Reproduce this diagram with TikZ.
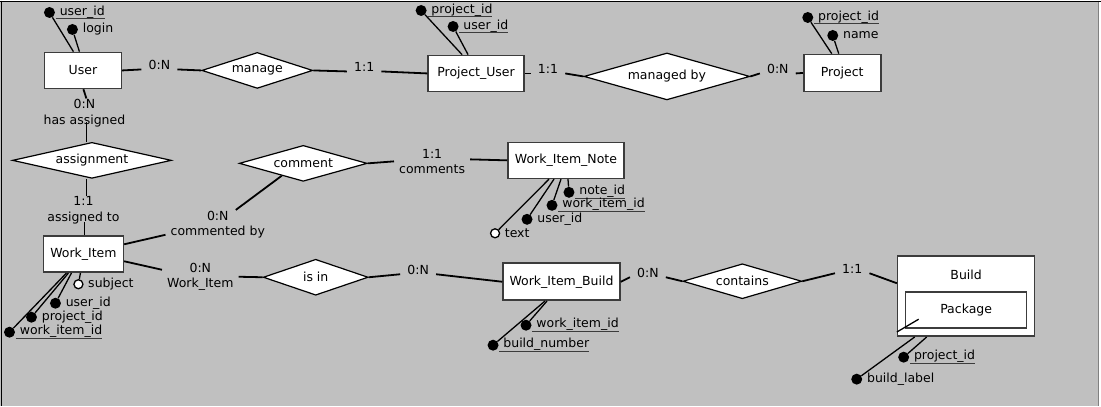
\documentclass[tikz,border=0pt]{standalone}
\usepackage{fontspec}
\setmainfont{DejaVu Sans}
\usetikzlibrary{shapes.geometric}

\definecolor{canvas}{RGB}{192,192,192}
\definecolor{boxline}{RGB}{60,60,60}

% underlined key attribute name
\newcommand{\ulkey}[1]{\setbox0=\hbox{\ #1}\leavevmode\hbox{\rlap{\copy0}\raise-3pt\hbox to\wd0{\color{boxline}\leaders\vrule height 0pt depth 1.3pt\hfill}}}

\tikzset{
  entity/.style = {draw=boxline, line width=1.6pt, fill=white, rectangle, inner sep=0pt, minimum width=#1, minimum height=36pt},
  rel/.style = {draw=black, line width=1.2pt, fill=white, diamond, aspect=3.5, inner sep=0pt, minimum width=#1},
  card/.style = {inner xsep=7pt, inner ysep=1pt},
  twocard/.style = {align=center, inner xsep=5pt, inner ysep=1pt},
  keyattr/.style = {circle, fill=black, inner sep=0pt, minimum size=11pt},
  attr/.style = {circle, draw=black, line width=1.3pt, fill=white, inner sep=0pt, minimum size=9pt},
  attrtxt/.style = {inner sep=0.5pt, label distance=0pt},
  link/.style = {line width=1.8pt},
  attrlink/.style = {line width=1.3pt}
}

\begin{document}
\begin{tikzpicture}[x=1pt, y=-1pt, font=\fontsize{12.5}{15.5}\selectfont]
% frame
\fill[canvas] (0,0) rectangle (1098,406);
\fill[white] (1098,0) rectangle (1101,406);
\draw[gray, line width=1pt] (1098.5,0) -- (1098.5,406);
\draw[black, line width=1pt] (0,0.5) -- (1101,0.5);
\draw[black, line width=1pt] (1,0) -- (1,406);
\useasboundingbox (0,0) rectangle (1101,406);

% entities
\node[entity=77pt] (user) at (82.5,70) {User};
\node[entity=96pt] (projuser) at (476,73) {Project\_User};
\node[entity=77pt, minimum height=37pt] (project) at (842.5,72.5) {Project};
\node[entity=80pt] (workitem) at (83,254) {Work\_Item};
\node[entity=116pt] (wnote) at (566,160) {Work\_Item\_Note};
\node[entity=117pt, minimum height=37pt] (wbuild) at (561.5,281.5) {Work\_Item\_Build};
\node[entity=137pt, minimum height=80pt] (build) at (966.5,296) {};
\node (buildname) at (966.5,275) {Build};
\node[entity=121pt] (package) at (966.5,310) {Package};

% relationships
\node[rel=111pt, minimum height=36pt] (manage) at (257,70) {manage};
\node[rel=166pt, minimum height=47pt] (managedby) at (667,76) {managed by};
\node[rel=159pt, minimum height=36pt] (assignment) at (91.5,160) {assignment};
\node[rel=128pt, minimum height=36pt] (comment) at (303,163) {comment};
\node[rel=105pt, minimum height=36pt] (isin) at (315.5,277) {is in};
\node[rel=119pt, minimum height=35pt] (contains) at (742.5,281) {contains};

% cardinalities
\node[card, anchor=base] (c1) at (159,69) {0:N};
\node[card, anchor=base] (c2) at (364,71) {1:1};
\node[card, anchor=base] (c3) at (548,73) {1:1};
\node[card, anchor=base] (c4) at (778,73) {0:N};
\node[twocard] (c5) at (84,113) {0:N\\has assigned};
\node[twocard] (c6) at (83,210) {1:1\\assigned to};
\node[twocard] (c7) at (217.5,224.5) {0:N\\commented by};
\node[twocard] (c8) at (432,161) {1:1\\comments};
\node[twocard] (c9) at (200,276.5) {0:N\\Work\_Item};
\node[card, anchor=base] (c10) at (418,274) {0:N};
\node[card, anchor=base] (c11) at (648,277) {0:N};
\node[card, anchor=base] (c12) at (852.5,273) {1:1};

\draw[link] (user.east) -- (c1.base west);
\draw[link] (c1.base east) -- (manage.west);
\draw[link] (manage.east) -- (c2.base west);
\draw[link] (c2.base east) -- (projuser.west);
\draw[link] (projuser.east) -- (c3.base west);
\draw[link] (c3.base east) -- (managedby.west);
\draw[link] (managedby.east) -- (c4.base west);
\draw[link] (c4.base east) -- (project.west);
\draw[link] ([xshift=0.5pt]user.south) -- ([xshift=2pt]c5.north);
\draw[link] ([xshift=2pt, yshift=6pt]c5.south) -- ([xshift=-5.5pt]assignment.north);
\draw[link] ([xshift=-5.5pt]assignment.south) -- ([xshift=3pt]c6.north);
\draw[link] ([xshift=1pt, yshift=3pt]c6.south) -- ([xshift=1pt]workitem.north);
\draw[link] ([yshift=10pt]workitem.east) -- ([yshift=-10pt]c7.west);
\draw[link] ([xshift=18pt]c7.north) -- (comment.-150);
\draw[link] (comment.east) -- (c8.west);
\draw[link] ([yshift=2pt]c8.east) -- (wnote.west);
\draw[link] ([yshift=-7pt]workitem.east) -- ([yshift=7pt]c9.west);
\draw[link] (c9.east) -- (isin.west);
\draw[link] (isin.east) -- (c10.base west);
\draw[link] (c10.base east) -- (wbuild.west);
\draw[link] (wbuild.east) -- (c11.base west);
\draw[link] (c11.base east) -- (contains.west);
\draw[link] (contains.east) -- (c12.base west);
\draw[link] (c12.base east) -- ([yshift=13pt]build.west);
\draw[attrlink] ([xshift=-47.5pt, yshift=-9pt]package.center) -- ([yshift=5pt]build.south west);

% attributes
\node[keyattr, label={[attrtxt]right:\ulkey{user\_id}}] (uid) at (49,12) {};
\node[keyattr, label={[attrtxt]right:\ login}] (login) at (72,29) {};
\draw[attrlink] (uid) -- ([xshift=-9.5pt]user.north);
\draw[attrlink] (login) -- ([xshift=-3.5pt]user.north);

\node[keyattr, label={[attrtxt]right:\ulkey{project\_id}}] (pupid) at (421,10) {};
\node[keyattr, label={[attrtxt]right:\ulkey{user\_id}}] (puuid) at (453,26) {};
\draw[attrlink] (pupid) -- ([xshift=-14pt]projuser.north);
\draw[attrlink] (puuid) -- ([xshift=-8pt]projuser.north);

\node[keyattr, label={[attrtxt]right:\ulkey{project\_id}}] (ppid) at (808,17) {};
\node[keyattr, label={[attrtxt]right:\ name}] (pname) at (833,35) {};
\draw[attrlink] (ppid) -- ([xshift=-10.5pt]project.north);
\draw[attrlink] (pname) -- ([xshift=-3.5pt]project.north);

\node[attr, label={[attrtxt]right:\ subject}] (wisubj) at (78,284) {};
\node[keyattr, label={[attrtxt]right:\ user\_id}] (wiuid) at (55,303) {};
\node[keyattr, label={[attrtxt]right:\ project\_id}] (wipid) at (31,317) {};
\node[keyattr, label={[attrtxt]right:\ulkey{work\_item\_id}}] (wiwid) at (9,332) {};
\draw[attrlink] (wisubj) -- ([xshift=-3pt]workitem.south);
\draw[attrlink] (wiuid) -- ([xshift=-12pt]workitem.south);
\draw[attrlink] (wipid) -- ([xshift=-15pt]workitem.south);
\draw[attrlink] (wiwid) -- ([xshift=-17pt]workitem.south);

\node[keyattr, label={[attrtxt]right:\ulkey{note\_id}}] (nnid) at (569,192) {};
\node[keyattr, label={[attrtxt]right:\ulkey{work\_item\_id}}] (nwid) at (552,205) {};
\node[keyattr, label={[attrtxt]right:\ user\_id}] (nuid) at (527,219) {};
\node[attr, label={[attrtxt]right:\ text}] (ntext) at (495,233) {};
\draw[attrlink] (nnid) -- ([xshift=2pt]wnote.south);
\draw[attrlink] (nwid) -- ([xshift=-5pt]wnote.south);
\draw[attrlink] (nuid) -- ([xshift=-12pt]wnote.south);
\draw[attrlink] (ntext) -- ([xshift=-17pt]wnote.south);

\node[keyattr, label={[attrtxt]right:\ulkey{work\_item\_id}}] (bwid) at (526,325) {};
\node[keyattr, label={[attrtxt]right:\ulkey{build\_number}}] (bbnum) at (493,345) {};
\draw[attrlink] (bwid) -- ([xshift=-14.5pt]wbuild.south);
\draw[attrlink] (bbnum) -- ([xshift=-16.5pt]wbuild.south);

\node[keyattr, label={[attrtxt]right:\ulkey{project\_id}}] (bpid) at (904,357) {};
\node[keyattr, label={[attrtxt]right:\ build\_label}] (blabel) at (857,379) {};
\draw[attrlink] (bpid) -- ([xshift=-39.5pt]build.south);
\draw[attrlink] (blabel) -- ([xshift=-51.5pt]build.south);
\end{tikzpicture}
\end{document}
